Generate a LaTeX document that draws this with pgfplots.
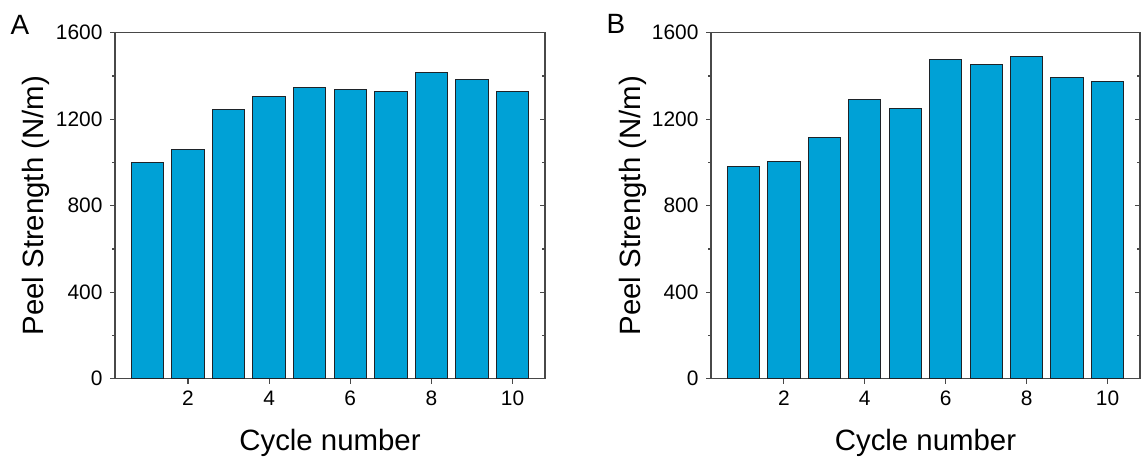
\documentclass[border=0pt]{standalone}
\usepackage{fontspec}
\setmainfont{Liberation Sans}
\usepackage{pgfplots}
\pgfplotsset{compat=1.18}

\definecolor{barblue}{RGB}{0,161,214}
\definecolor{framegray}{RGB}{72,72,72}
\definecolor{baredge}{RGB}{30,35,40}

% peel strength per cycle, panel A and panel B
\pgfplotstableread{
cycle strength
1  1002
2  1060
3  1246
4  1305
5  1347
6  1337
7  1330
8  1416
9  1384
10 1327
}\peelA
\pgfplotstableread{
cycle strength
1  981
2  1004
3  1115
4  1290
5  1251
6  1476
7  1453
8  1492
9  1391
10 1373
}\peelB

\pgfplotsset{
  peelframe/.style={
    scale only axis, width=430bp, height=346bp,
    xmin=0.2, xmax=10.8, ymin=0, ymax=1600,
    xtick={2,4,6,8,10},
    ytick={0,400,...,1600},
    minor ytick={200,600,1000,1400},
    major tick length=5bp, minor tick length=3bp,
    axis line style={framegray, line width=1.4bp},
    every tick/.style={framegray, line width=1.2bp},
    /pgf/number format/assume math mode=true,
    /pgf/number format/1000 sep={},
  },
  peel/.style={
    peelframe,
    xtick pos=bottom, ytick pos=left,
    tick align=outside,
    tick label style={font=\fontsize{21}{24}\selectfont},
    yticklabel style={xshift=-4bp},
    xticklabel style={yshift=-4bp},
    label style={font=\fontsize{29.5}{34}\selectfont},
    xlabel={Cycle number},
    ylabel={Peel Strength (N/m)},
    xlabel style={at={(axis description cs:0.5,-0.185)}, anchor=center},
    ylabel style={at={(axis description cs:-0.183,0.5)}, anchor=center},
  },
  rightticks/.style={
    peelframe,
    axis x line=none, axis y line*=right,
    ytick pos=right, tick align=inside,
    yticklabels={},
  },
  peelbars/.style={ybar, bar width=0.8, fill=barblue, draw=baredge, line width=1bp},
}

\begin{document}
\begin{tikzpicture}
\path[use as bounding box] (0bp,0bp) rectangle (1143bp,459bp);

% panel A
\begin{axis}[peel, at={(115bp,80.3bp)}, anchor=south west]
  \addplot[peelbars] table[x=cycle, y=strength] {\peelA};
\end{axis}
\begin{axis}[rightticks, at={(115bp,80.3bp)}, anchor=south west]
\end{axis}

% panel B
\begin{axis}[peel, at={(711bp,80.3bp)}, anchor=south west, width=429bp]
  \addplot[peelbars] table[x=cycle, y=strength] {\peelB};
\end{axis}
\begin{axis}[rightticks, at={(711bp,80.3bp)}, anchor=south west, width=429bp]
\end{axis}

\node at (20bp,434bp) {\fontsize{28}{32}\selectfont A};
\node at (616bp,435bp) {\fontsize{28}{32}\selectfont B};
\end{tikzpicture}
\end{document}
